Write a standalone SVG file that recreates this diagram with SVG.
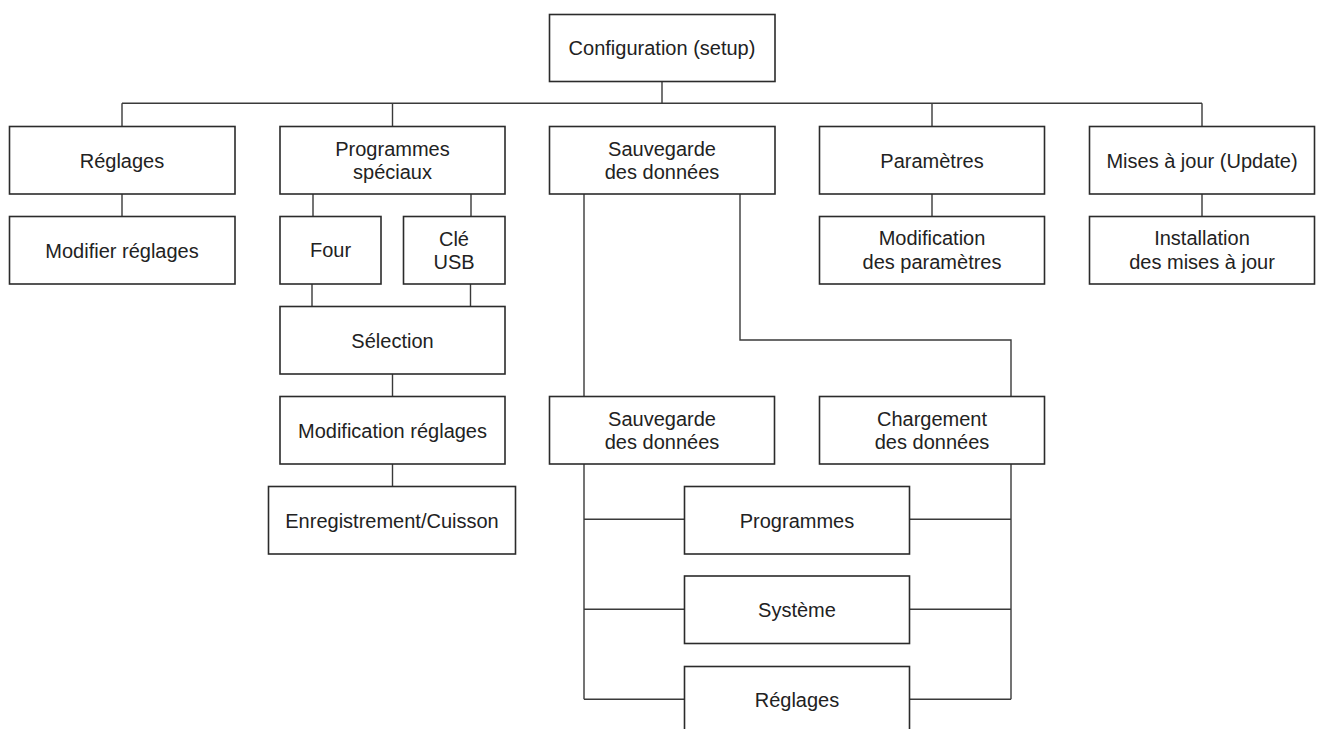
<svg xmlns="http://www.w3.org/2000/svg" width="1322" height="729" viewBox="0 0 1322 729">
<style>
.box{fill:#fff;stroke:#2b2b2b;stroke-width:1.6}
.lbl{font-family:"Liberation Sans",Arial,sans-serif;font-size:20px;fill:#222;text-anchor:middle}
.con{fill:none;stroke:#3a3a3a;stroke-width:1.4}
</style>
<rect width="1322" height="729" fill="#fff"/>
<g id="connectors">
<path class="con" d="M662,81.5V103.3M122,103.3H1202M122,103.3V126.5M392.5,103.3V126.5M932,103.3V126.5M1202,103.3V126.5"/>
<path class="con" d="M122,194V216.5M932,194V216.5M1202,194V216.5"/>
<path class="con" d="M313,194V216.5M471,194V216.5M312,284V306.5M470.5,284V306.5M392.5,374V396.5M392.5,464V486.5"/>
<path class="con" d="M584,194V396.5M740,194V340H1011V396.5"/>
<path class="con" d="M584,464V699.3M584,519.3H684.5M584,609.3H684.5M584,699.3H684.5"/>
<path class="con" d="M1011,464V699.3M909.5,519.3H1011M909.5,609.3H1011M909.5,699.3H1011"/>
</g>
<g id="config"><rect class="box" x="549.5" y="14.5" width="225.5" height="67"/><text class="lbl" x="662" y="55">Configuration (setup)</text></g>
<g id="reglages"><rect class="box" x="9.5" y="126.5" width="225.5" height="67.5"/><text class="lbl" x="122" y="167.5">Réglages</text></g>
<g id="programmes-speciaux"><rect class="box" x="280" y="126.5" width="225" height="67.5"/><text class="lbl" x="392.5" y="155.5">Programmes</text><text class="lbl" x="392.5" y="179">spéciaux</text></g>
<g id="sauvegarde"><rect class="box" x="549.5" y="126.5" width="225.5" height="67.5"/><text class="lbl" x="662" y="155.5">Sauvegarde</text><text class="lbl" x="662" y="179">des données</text></g>
<g id="parametres"><rect class="box" x="819.5" y="126.5" width="225" height="67.5"/><text class="lbl" x="932" y="167.5">Paramètres</text></g>
<g id="mises-a-jour"><rect class="box" x="1089.5" y="126.5" width="225" height="67.5"/><text class="lbl" x="1202" y="167.5">Mises à jour (Update)</text></g>
<g id="modifier-reglages"><rect class="box" x="9.5" y="216.5" width="225.5" height="67.5"/><text class="lbl" x="122" y="257.5">Modifier réglages</text></g>
<g id="four"><rect class="box" x="280" y="216.5" width="101" height="67.5"/><text class="lbl" x="330.5" y="257">Four</text></g>
<g id="cle-usb"><rect class="box" x="403.5" y="216.5" width="101.5" height="67.5"/><text class="lbl" x="454" y="246">Clé</text><text class="lbl" x="454" y="269">USB</text></g>
<g id="modification-parametres"><rect class="box" x="819.5" y="216.5" width="225" height="67.5"/><text class="lbl" x="932" y="245">Modification</text><text class="lbl" x="932" y="269">des paramètres</text></g>
<g id="installation"><rect class="box" x="1089.5" y="216.5" width="225" height="67.5"/><text class="lbl" x="1202" y="245">Installation</text><text class="lbl" x="1202" y="269">des mises à jour</text></g>
<g id="selection"><rect class="box" x="280" y="306.5" width="225" height="67.5"/><text class="lbl" x="392.5" y="347.5">Sélection</text></g>
<g id="modification-reglages"><rect class="box" x="280" y="396.5" width="225" height="67.5"/><text class="lbl" x="392.5" y="437.5">Modification réglages</text></g>
<g id="enregistrement"><rect class="box" x="268.5" y="486.5" width="247" height="67.5"/><text class="lbl" x="392" y="527.5">Enregistrement/Cuisson</text></g>
<g id="sauvegarde-donnees"><rect class="box" x="549.5" y="396.5" width="225" height="67.5"/><text class="lbl" x="662" y="425.5">Sauvegarde</text><text class="lbl" x="662" y="449">des données</text></g>
<g id="chargement"><rect class="box" x="819.5" y="396.5" width="225" height="67.5"/><text class="lbl" x="932" y="425.5">Chargement</text><text class="lbl" x="932" y="449">des données</text></g>
<g id="programmes"><rect class="box" x="684.5" y="486.5" width="225" height="67.5"/><text class="lbl" x="797" y="527.5">Programmes</text></g>
<g id="systeme"><rect class="box" x="684.5" y="576" width="225" height="67.5"/><text class="lbl" x="797" y="616.5">Système</text></g>
<g id="reglages-2"><rect class="box" x="684.5" y="666.5" width="225" height="80"/><text class="lbl" x="797" y="707">Réglages</text></g>
</svg>
